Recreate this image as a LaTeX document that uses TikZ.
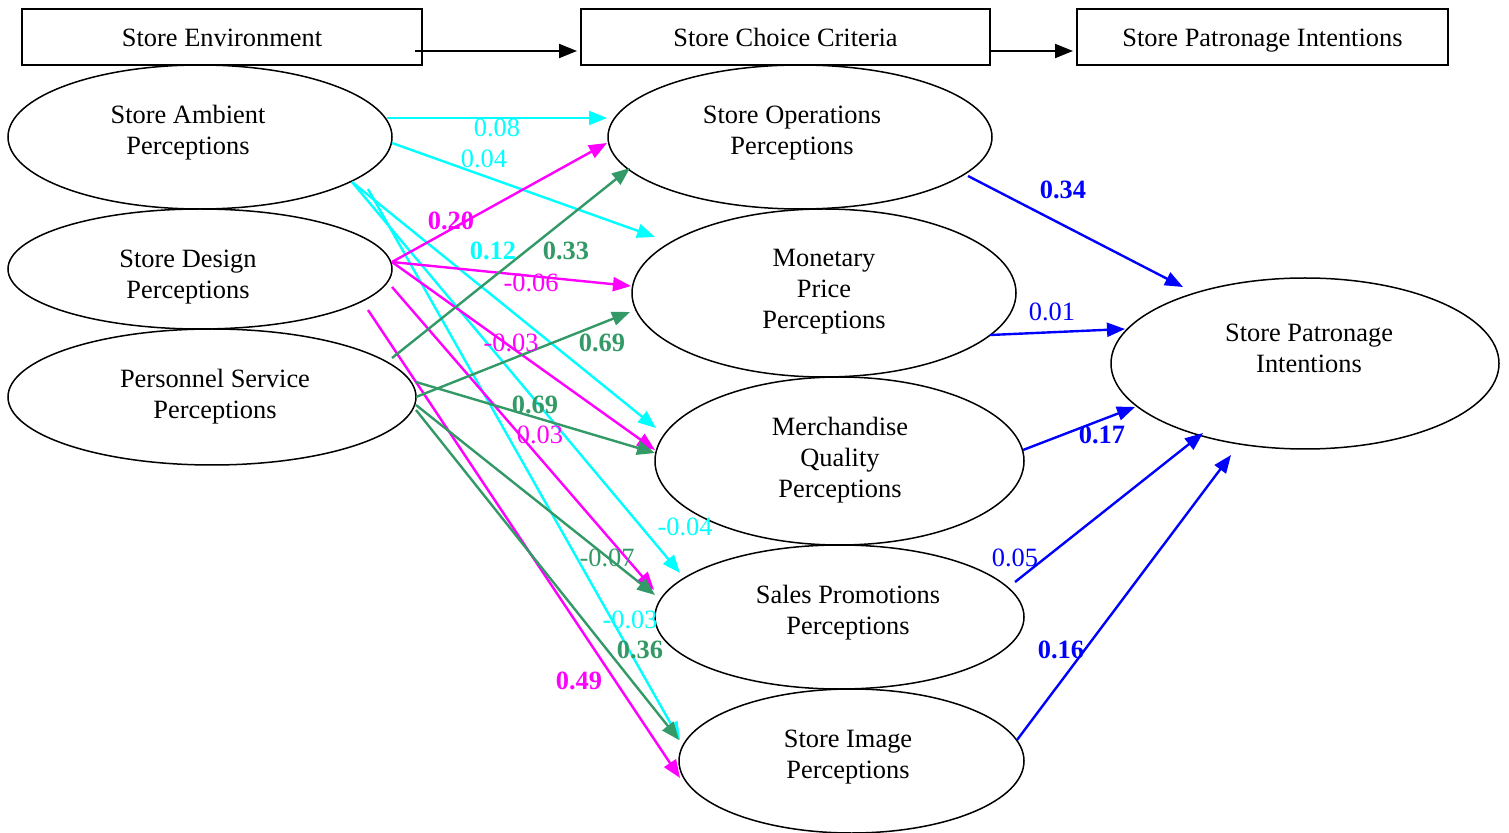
\documentclass[tikz,border=0pt]{standalone}
\usepackage{fontspec}
\setmainfont{Liberation Serif}
\usetikzlibrary{arrows.meta,shapes.geometric}
\definecolor{cy}{RGB}{0,255,255}
\definecolor{mg}{RGB}{255,0,255}
\definecolor{gr}{RGB}{51,153,102}
\definecolor{bl}{RGB}{0,0,255}
\tikzset{
  hbox/.style={draw,line width=0.6pt,inner sep=0,outer sep=0},
  ell/.style={draw,ellipse,line width=0.75pt,inner sep=0,outer sep=0},
  txt/.style={align=center,font=\fontsize{13.2}{15.5}\selectfont,inner sep=0},
  htxt/.style={txt,anchor=base},
  lab/.style={font=\fontsize{13.2}{14}\selectfont,inner sep=0},
  blab/.style={lab,font=\fontsize{13.2}{14}\selectfont\bfseries},
  conn/.style={line width=1.2pt,-{Triangle[length=9pt,width=7pt]}},
}
\begin{document}
\begin{tikzpicture}[x=0.5pt,y=-0.5pt]
\useasboundingbox (0,0) rectangle (1509,833);
% header boxes
\node[hbox,minimum width=200pt,minimum height=28pt] (env) at (222,37) {};
\node[htxt] (envt) at (222,47) {Store Environment};
\node[hbox,minimum width=204.5pt,minimum height=28pt] (scc) at (785.5,37) {};
\node[htxt] (scct) at (785.5,47) {Store Choice Criteria};
\node[hbox,minimum width=185.5pt,minimum height=28pt] (spi) at (1262.5,37) {};
\node[htxt] (spit) at (1262.5,47) {Store Patronage Intentions};
\coordinate (h1s) at (415,51); \coordinate (h1e) at (577,51);
\coordinate (h2s) at (990,51); \coordinate (h2e) at (1073,51);
\draw[conn,line width=1pt] (h1s) -- (h1e);
\draw[conn,line width=1pt] (h2s) -- (h2e);
% ellipses
\node[ell,minimum width=192pt,minimum height=72pt] (sa) at (200,137) {};
\node[txt] (sat) at (188,133) {Store Ambient\\Perceptions};
\node[ell,minimum width=192pt,minimum height=60pt] (sd) at (200,269) {};
\node[txt] (sdt) at (188,277) {Store Design\\Perceptions};
\node[ell,minimum width=204pt,minimum height=68pt] (ps) at (212,397) {};
\node[txt] (pst) at (215,397) {Personnel Service\\Perceptions};
\node[ell,minimum width=192pt,minimum height=72pt] (so) at (800,137) {};
\node[txt] (sot) at (792,133) {Store Operations\\Perceptions};
\node[ell,minimum width=192pt,minimum height=84pt] (mp) at (824,293) {};
\node[txt] (mpt) at (824,292) {Monetary\\Price\\Perceptions};
\node[ell,minimum width=184.5pt,minimum height=84pt] (mq) at (839.5,461) {};
\node[txt] (mqt) at (840,460) {Merchandise\\Quality\\Perceptions};
\node[ell,minimum width=184.5pt,minimum height=72pt] (sp) at (839.5,617) {};
\node[txt] (spt) at (848,613) {Sales Promotions\\Perceptions};
\node[ell,minimum width=172.5pt,minimum height=72pt] (si) at (851.5,761) {};
\node[txt] (sit) at (848,757) {Store Image\\Perceptions};
\node[ell,minimum width=194pt,minimum height=85.5pt] (pi) at (1305,363.5) {};
\node[txt] (pit) at (1309,348) {Store Patronage\\Intentions};
% cyan connectors (Store Ambient)
\coordinate (c1s) at (387,118); \coordinate (c1e) at (607,118);
\coordinate (c2s) at (392,143); \coordinate (c2e) at (655,237);
\coordinate (c3s) at (352,182); \coordinate (c3e) at (656,428);
\coordinate (c4s) at (352,182); \coordinate (c4e) at (680,573);
\coordinate (c5s) at (368,189); \coordinate (c5e) at (680,740);
\draw[conn,cy] (c1s) -- (c1e);
\draw[conn,cy] (c2s) -- (c2e);
\draw[conn,cy] (c3s) -- (c3e);
\draw[conn,cy] (c4s) -- (c4e);
\draw[conn,cy] (c5s) -- (c5e);
% magenta connectors (Store Design)
\coordinate (m1s) at (392,262); \coordinate (m1e) at (607,143);
\coordinate (m2s) at (392,262); \coordinate (m2e) at (631,286);
\coordinate (m3s) at (392,262); \coordinate (m3e) at (655,450);
\coordinate (m4s) at (392,287); \coordinate (m4e) at (654,590);
\coordinate (m5s) at (368,310); \coordinate (m5e) at (680,778);
\draw[conn,mg] (m1s) -- (m1e);
\draw[conn,mg] (m2s) -- (m2e);
\draw[conn,mg] (m3s) -- (m3e);
\draw[conn,mg] (m4s) -- (m4e);
\draw[conn,mg] (m5s) -- (m5e);
% green connectors (Personnel Service)
\coordinate (g1s) at (392,358); \coordinate (g1e) at (630,168);
\coordinate (g2s) at (416,397); \coordinate (g2e) at (630,312);
\coordinate (g3s) at (416,382); \coordinate (g3e) at (655,453);
\coordinate (g4s) at (416,405); \coordinate (g4e) at (655,595);
\coordinate (g5s) at (416,410); \coordinate (g5e) at (679,740);
\draw[conn,gr] (g1s) -- (g1e);
\draw[conn,gr] (g2s) -- (g2e);
\draw[conn,gr] (g3s) -- (g3e);
\draw[conn,gr] (g4s) -- (g4e);
\draw[conn,gr] (g5s) -- (g5e);
% blue connectors
\coordinate (b1s) at (968,176); \coordinate (b1e) at (1183,287);
\coordinate (b2s) at (990,335); \coordinate (b2e) at (1125,329);
\coordinate (b3s) at (1023,450); \coordinate (b3e) at (1135,407);
\coordinate (b4s) at (1015,582); \coordinate (b4e) at (1203,433);
\coordinate (b5s) at (1017,740); \coordinate (b5e) at (1231,455);
\draw[conn,bl] (b1s) -- (b1e);
\draw[conn,bl] (b2s) -- (b2e);
\draw[conn,bl] (b3s) -- (b3e);
\draw[conn,bl] (b4s) -- (b4e);
\draw[conn,bl] (b5s) -- (b5e);
% labels
\node[lab,cy] (lc1) at (497,128) {0.08};
\node[lab,cy] (lc2) at (484,159) {0.04};
\node[blab,cy] (lc3) at (493,251) {0.12};
\node[lab,cy] (lc4) at (685,527) {-0.04};
\node[lab,cy] (lc5) at (630,620) {-0.03};
\node[blab,mg] (lm1) at (451,221) {0.20};
\node[lab,mg] (lm2) at (531,283) {-0.06};
\node[lab,mg] (lm3) at (511,343) {-0.03};
\node[lab,mg] (lm4) at (540,435) {0.03};
\node[blab,mg] (lm5) at (579,681) {0.49};
\node[blab,gr] (lg1) at (566,251) {0.33};
\node[blab,gr] (lg2) at (602,343) {0.69};
\node[blab,gr] (lg3) at (535,405) {0.69};
\node[lab,gr] (lg4) at (607,558) {-0.07};
\node[blab,gr] (lg5) at (640,650) {0.36};
\node[blab,bl] (lb1) at (1063,190) {0.34};
\node[lab,bl] (lb2) at (1052,312) {0.01};
\node[blab,bl] (lb3) at (1102,435) {0.17};
\node[lab,bl] (lb4) at (1015,558) {0.05};
\node[blab,bl] (lb5) at (1061,650) {0.16};
\end{tikzpicture}
\end{document}
